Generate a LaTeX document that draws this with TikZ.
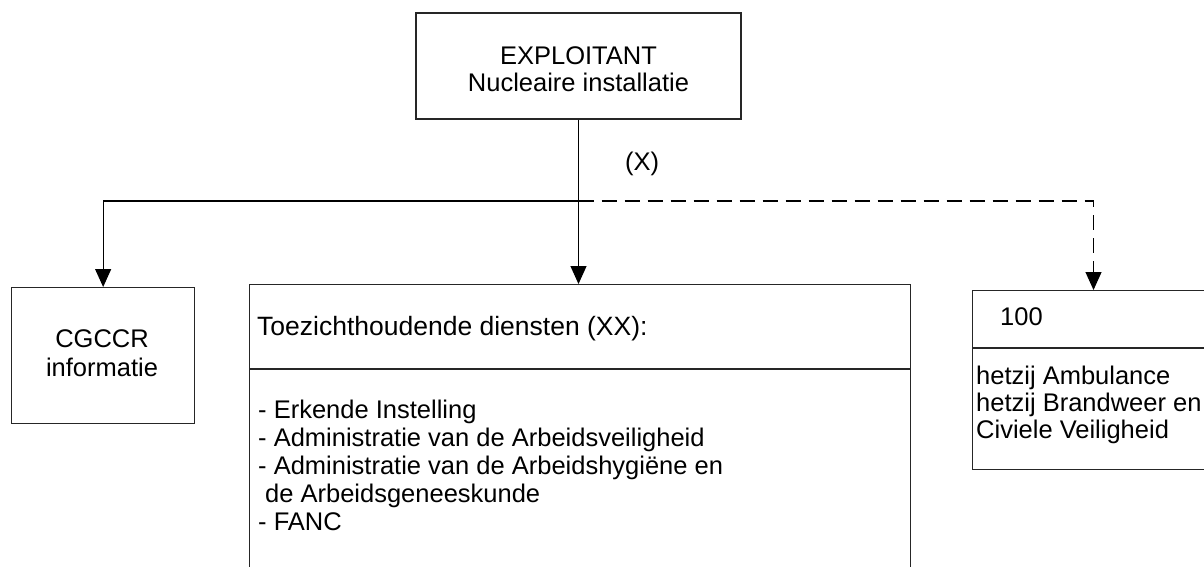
\documentclass[tikz,border=0pt]{standalone}
\usepackage{fontspec}
\setmainfont{Liberation Sans}
\usetikzlibrary{arrows.meta}
\begin{document}
\begin{tikzpicture}[x=1pt,y=-1pt,
  box/.style={draw=black!85,line width=1.3pt,inner sep=0pt},
  txt/.style={inner sep=0pt,font=\fontsize{25.5}{28}\selectfont},
  conn/.style={line width=1.1pt,-{Triangle[length=18pt,width=16pt]}},
  dashline/.style={conn,dash pattern=on 15pt off 8pt}]
\useasboundingbox (0,0) rectangle (1204,566);
\clip (0,0) rectangle (1204,566);
% boxes
\node[box,minimum width=325pt,minimum height=106pt] (top) at (578.5,66) {};
\node[box,anchor=north west,minimum width=183pt,minimum height=136pt] (left) at (11,287) {};
\node[box,anchor=north west,minimum width=661pt,minimum height=300pt] (mid) at (249,284) {};
\node[box,anchor=north west,minimum width=260pt,minimum height=179pt] (right) at (972,290) {};
\draw[line width=1.3pt,draw=black!85] (mid.west |- 0,369) -- (mid.east |- 0,369);
\draw[line width=1.3pt,draw=black!85] (right.west |- 0,348) -- (right.east |- 0,348);
% texts
\node[txt,anchor=base] (t1) at (578.5,64) {EXPLOITANT};
\node[txt,anchor=base] (t2) at (578.5,91) {Nucleaire installatie};
\node[txt,anchor=base] (xlab) at (642,170) {(X)};
\node[txt,anchor=base] (l1) at (102,347) {CGCCR};
\node[txt,anchor=base] (l2) at (102,376) {informatie};
\node[txt,anchor=base west,font=\fontsize{26.5}{28}\selectfont] (m0) at (257,335) {Toezichthoudende diensten (XX):};
\node[txt,anchor=base west] (m1) at (258,418) {- Erkende Instelling};
\node[txt,anchor=base west] (m2) at (258,446) {- Administratie van de Arbeidsveiligheid};
\node[txt,anchor=base west] (m3) at (258,474) {- Administratie van de Arbeidshygi\"ene en};
\node[txt,anchor=base west] (m4) at (265,502) {de Arbeidsgeneeskunde};
\node[txt,anchor=base west] (m5) at (258,530) {- FANC};
\node[txt,anchor=base west] (r0) at (1000,325) {100};
\node[txt,anchor=base west] (r1) at (976,384) {hetzij Ambulance};
\node[txt,anchor=base west] (r2) at (976,411) {hetzij Brandweer en};
\node[txt,anchor=base west] (r3) at (976,438) {Civiele Veiligheid};
% connectors
\coordinate (j) at (top.south |- 0,201);
\coordinate (rt) at (1093.5,290);
\draw[conn] (top.south) -- (top.south |- mid.north);
\draw[conn] (j) -| (left.north);
\draw[dashline] (j) -| (rt);
\end{tikzpicture}
\end{document}
